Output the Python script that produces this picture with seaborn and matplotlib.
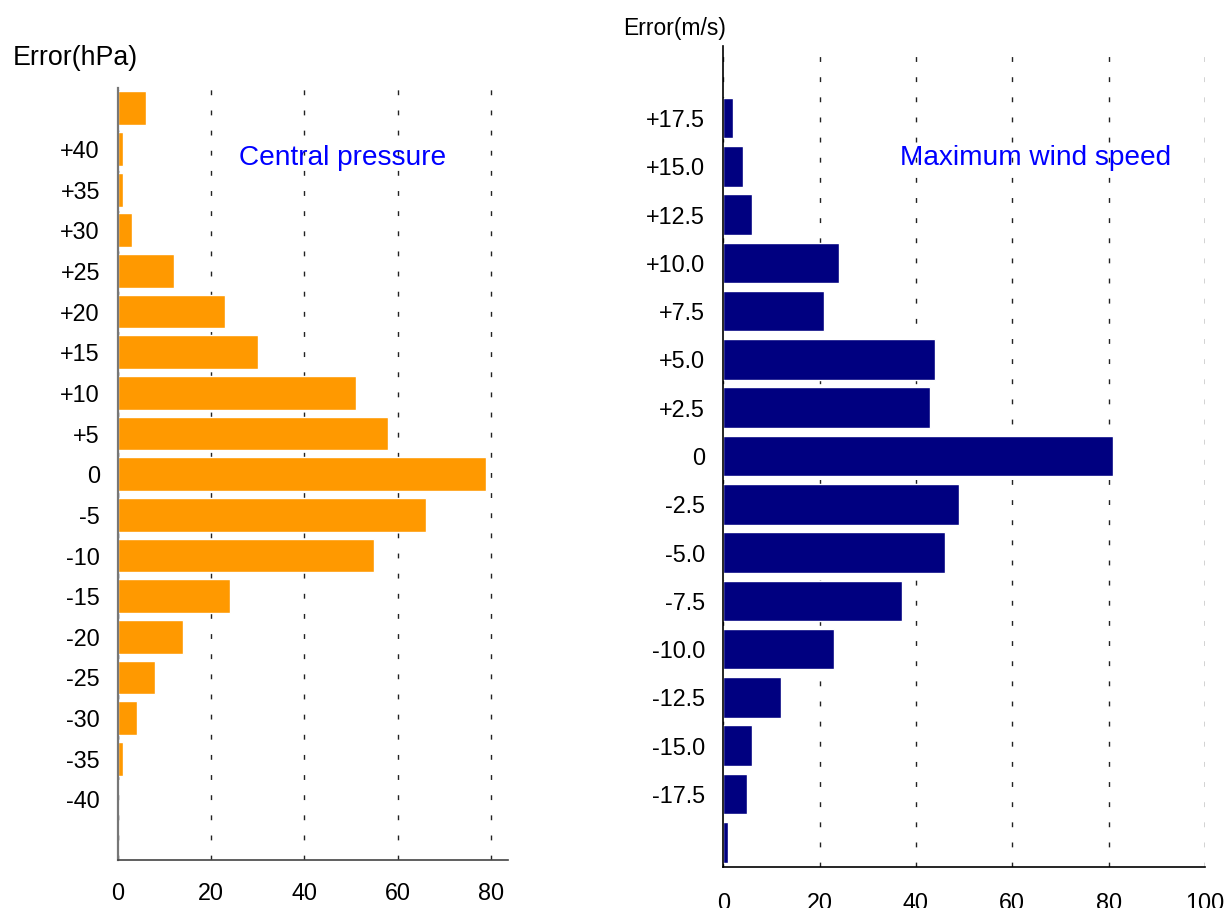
import matplotlib
matplotlib.use("Agg")
import matplotlib.pyplot as plt
import seaborn as sns
import pandas as pd

# Central pressure error bins (hPa), top to bottom, and case counts
pressure_bins = ["+45", "+40", "+35", "+30", "+25", "+20", "+15", "+10", "+5",
                 "0", "-5", "-10", "-15", "-20", "-25", "-30", "-35", "-40"]
pressure_counts = [6, 1, 1, 3, 12, 23, 30, 51, 58, 79, 66, 55, 24, 14, 8, 4, 1, 0]
pressure_ticklabels = ["", "+40", "+35", "+30", "+25", "+20", "+15", "+10", "+5",
                       "0", "-5", "-10", "-15", "-20", "-25", "-30", "-35", "-40"]
pressure_xticks = [0, 20, 40, 60, 80]

# Maximum wind speed error bins (m/s), top to bottom, and case counts
wind_bins = ["+17.5", "+15.0", "+12.5", "+10.0", "+7.5", "+5.0", "+2.5", "0",
             "-2.5", "-5.0", "-7.5", "-10.0", "-12.5", "-15.0", "-17.5", "-20.0"]
wind_counts = [2, 4, 6, 24, 21, 44, 43, 81, 49, 46, 37, 23, 12, 6, 5, 1]
wind_ticklabels = ["+17.5", "+15.0", "+12.5", "+10.0", "+7.5", "+5.0", "+2.5", "0",
                   "-2.5", "-5.0", "-7.5", "-10.0", "-12.5", "-15.0", "-17.5", ""]
wind_xticks = [0, 20, 40, 60, 80, 100]

sns.set_theme(style="white")
plt.rcParams["font.family"] = ["Liberation Sans", "DejaVu Sans"]

W, H = 1226, 908
fig = plt.figure(figsize=(W / 100, H / 100), dpi=100)

grid_style = dict(color="#222222", linewidth=1.0, linestyle=(0, (3.5, 11)))


def px_axes(x0, x1, ytop, ybot):
    return fig.add_axes([x0 / W, (H - ybot) / H, (x1 - x0) / W, (ybot - ytop) / H])


# ---- Central pressure panel ----
ax1 = px_axes(118, 508, 88, 860)
df_p = pd.DataFrame({"bin": pressure_bins, "count": pressure_counts})
sns.barplot(data=df_p, x="count", y="bin", order=pressure_bins, orient="h",
            color="#FF9900", saturation=1, width=0.83, ax=ax1)
ax1.set_xlim(0, 83.65)
ax1.set_ylim(len(pressure_bins) - 1 + 1.49, -0.5)
ax1.set_xticks(pressure_xticks)
ax1.set_xticklabels([str(v) for v in pressure_xticks])
ax1.set_yticks(range(len(pressure_bins)))
ax1.set_yticklabels(pressure_ticklabels)
ax1.set_xlabel("")
ax1.set_ylabel("")
ax1.set_axisbelow(True)
ax1.grid(axis="x", **grid_style)
ax1.grid(axis="y", visible=False)
for s in ["top", "right"]:
    ax1.spines[s].set_visible(False)
ax1.spines["left"].set_color("#777777")
ax1.spines["left"].set_linewidth(1.6)
ax1.spines["bottom"].set_color("#444444")
ax1.spines["bottom"].set_linewidth(1.2)
ax1.tick_params(axis="y", length=0, pad=13, labelsize=16.8, labelcolor="black")
ax1.tick_params(axis="x", length=0, pad=16, labelsize=16.8, labelcolor="black")
fig.text(239 / W, 1 - 158 / H, "Central pressure", ha="left", va="center",
         fontsize=20.2, color="#0000FF")
fig.text(13 / W, 1 - 58 / H, "Error(hPa)", ha="left", va="center",
         fontsize=19.3, color="black")

# ---- Maximum wind speed panel ----
ax2 = px_axes(723.3, 1205, 46, 867)
df_w = pd.DataFrame({"bin": wind_bins, "count": wind_counts})
sns.barplot(data=df_w, x="count", y="bin", order=wind_bins, orient="h",
            color="#000080", saturation=1, width=0.84, ax=ax2)
ax2.set_xlim(0, 100)
ax2.set_ylim(len(wind_bins) - 1 + 0.51, -1.49)
ax2.set_xticks(wind_xticks)
ax2.set_xticklabels([str(v) for v in wind_xticks])
ax2.set_yticks(range(len(wind_bins)))
ax2.set_yticklabels(wind_ticklabels)
ax2.set_xlabel("")
ax2.set_ylabel("")
ax2.set_axisbelow(True)
ax2.grid(axis="x", **grid_style)
ax2.grid(axis="y", visible=False)
for s in ["top", "right"]:
    ax2.spines[s].set_visible(False)
ax2.spines["left"].set_color("black")
ax2.spines["left"].set_linewidth(1.2)
ax2.spines["bottom"].set_color("black")
ax2.spines["bottom"].set_linewidth(1.2)
ax2.tick_params(axis="y", length=0, pad=13, labelsize=16.8, labelcolor="black")
ax2.tick_params(axis="x", length=0, pad=18, labelsize=16.8, labelcolor="black")
fig.text(900 / W, 1 - 158 / H, "Maximum wind speed", ha="left", va="center",
         fontsize=20.2, color="#0000FF")
fig.text(623 / W, 1 - 28 / H, "Error(m/s)", ha="left", va="center",
         fontsize=16.5, color="black")

fig.savefig("out.png", dpi=100, facecolor="white")
